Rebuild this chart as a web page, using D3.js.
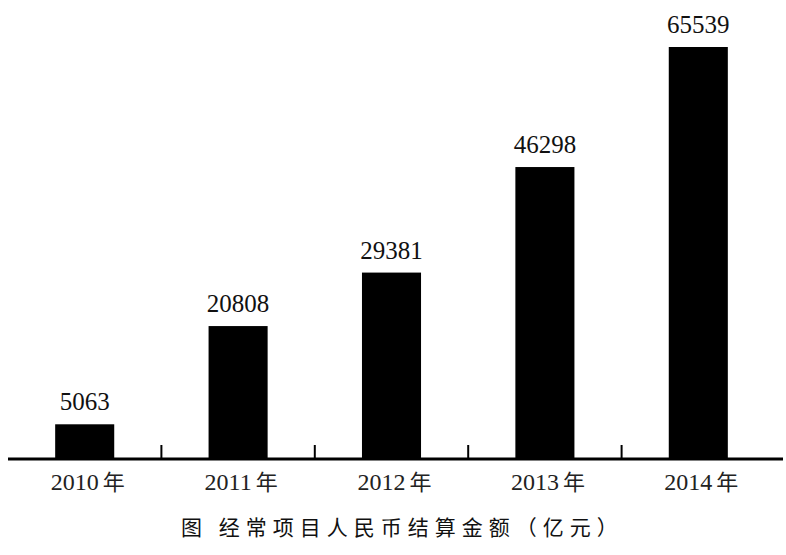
<!DOCTYPE html>
<html><head><meta charset="utf-8">
<script src="https://cdn.jsdelivr.net/npm/d3@7"></script>
<style>body{margin:0;background:#fff}svg{display:block}</style>
</head><body>
<svg id="c" width="786" height="555"></svg>
<script>
const years = ["2010", "2011", "2012", "2013", "2014"];
const values = [5063, 20808, 29381, 46298, 65539];
const yearSuffix = " 年";
const title = "图  经常项目人民币结算金额（亿元）";

const svg = d3.select("#c");
const baseY = 459;
const x = d3.scaleBand().domain(years).range([8, 775]).padding(0);
const y = d3.scaleLinear().domain([-500, 65539]).range([baseY, 47]);
const barW = x.bandwidth() * 0.385;

// bars
svg.selectAll("rect.bar").data(years).join("rect")
  .attr("class", "bar")
  .attr("x", (d) => x(d) + x.bandwidth() / 2 - barW / 2)
  .attr("y", (d, i) => y(values[i]))
  .attr("width", barW)
  .attr("height", (d, i) => baseY - y(values[i]))
  .attr("fill", "#000");

// value labels
svg.selectAll("text.val").data(years).join("text")
  .attr("class", "val")
  .attr("x", (d) => x(d) + x.bandwidth() / 2)
  .attr("y", (d, i) => y(values[i]) - 14)
  .attr("text-anchor", "middle")
  .attr("font-family", "'Liberation Serif', 'Times New Roman', serif")
  .attr("font-size", 25)
  .attr("fill", "#111")
  .text((d, i) => values[i]);

// axis line
svg.append("line")
  .attr("x1", 8).attr("x2", 783)
  .attr("y1", baseY).attr("y2", baseY)
  .attr("stroke", "#000").attr("stroke-width", 3);

// category boundary ticks
svg.selectAll("line.tick").data(years.slice(1)).join("line")
  .attr("class", "tick")
  .attr("x1", (d) => x(d)).attr("x2", (d) => x(d))
  .attr("y1", baseY).attr("y2", baseY - 14)
  .attr("stroke", "#000").attr("stroke-width", 2);

// category labels
const lab = svg.selectAll("text.cat").data(years).join("text")
  .attr("class", "cat")
  .attr("x", (d) => x(d) + x.bandwidth() / 2 + 3)
  .attr("y", 490)
  .attr("text-anchor", "middle")
  .attr("font-size", 24)
  .attr("fill", "#222");
lab.append("tspan")
  .attr("font-family", "'Liberation Serif', 'Times New Roman', serif")
  .text((d) => d);
lab.append("tspan")
  .attr("font-family", "'Noto Sans CJK SC', sans-serif")
  .attr("font-size", 22)
  .attr("dx", 4)
  .text(yearSuffix.trim());

// title
svg.append("text")
  .attr("x", 181).attr("y", 535)
  .attr("font-family", "'Noto Sans CJK SC', sans-serif")
  .attr("font-size", 21)
  .attr("letter-spacing", 6)
  .attr("fill", "#111")
  .text(title);
</script>
</body></html>
